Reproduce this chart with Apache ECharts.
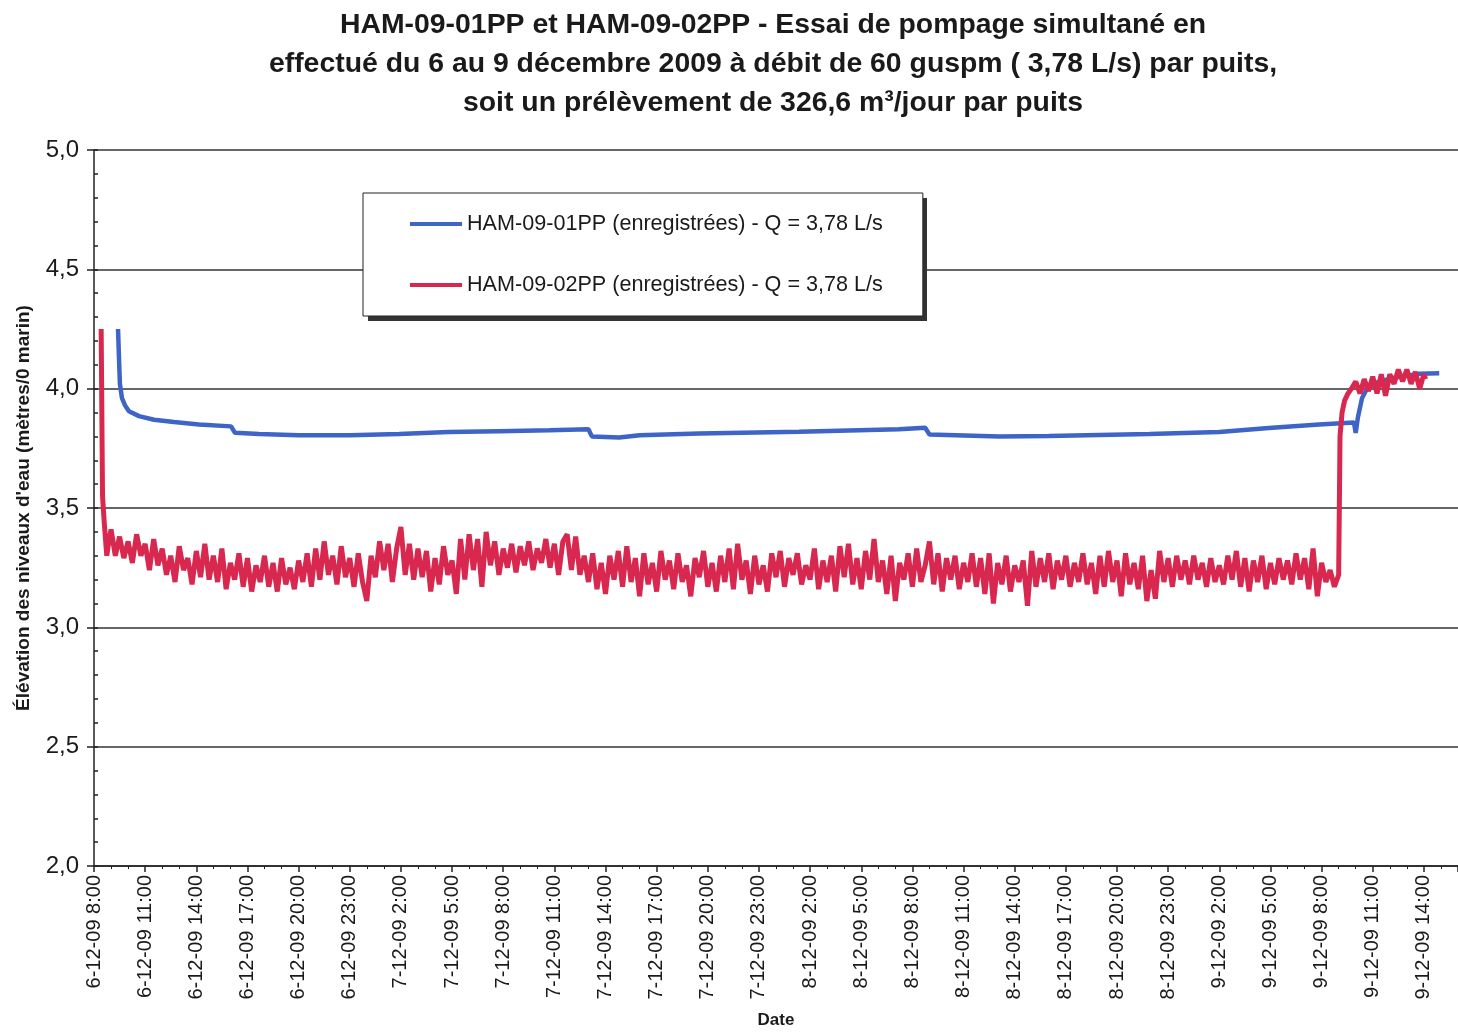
<!DOCTYPE html>
<html>
<head>
<meta charset="utf-8">
<script src="https://cdn.jsdelivr.net/npm/echarts@6/dist/echarts.min.js"></script>
<style>
html,body{margin:0;padding:0;background:#fff;}
#chart{width:1458px;height:1034px;}
</style>
</head>
<body>
<div id="chart"></div>
<script>
// X values are hours elapsed since 6-12-09 8:00
const titleText = 'HAM-09-01PP et HAM-09-02PP - Essai de pompage simultané en\neffectué du 6 au 9 décembre 2009 à débit de 60 guspm ( 3,78 L/s) par puits,\nsoit un prélèvement de 326,6 m³/jour par puits';
const seriesNames = ['HAM-09-01PP (enregistrées) - Q = 3,78 L/s', 'HAM-09-02PP (enregistrées) - Q = 3,78 L/s'];
const yAxisName = "Élévation des niveaux d'eau (mètres/0 marin)";
const xAxisName = 'Date';

// HAM-09-01PP (blue)
const blueHours = [1.41, 1.47, 1.52, 1.64, 1.82, 2.05, 2.64, 3.52, 4.69, 6.16, 8.04, 8.27, 9.68, 12.0, 15.0, 17.9, 20.8, 23.75, 26.7, 29.0, 29.2, 30.8, 32.0, 35.5, 41.35, 47.2, 48.75, 49.0, 53.1, 56.0, 61.9, 66.0, 68.9, 71.85, 73.9, 74.0, 74.13, 74.37, 74.66, 75.37, 76.54, 77.7, 78.9];
const blueValues = [4.25, 4.12, 4.02, 3.96, 3.93, 3.905, 3.885, 3.87, 3.86, 3.85, 3.842, 3.815, 3.81, 3.805, 3.805, 3.81, 3.818, 3.822, 3.826, 3.83, 3.80, 3.795, 3.805, 3.812, 3.82, 3.83, 3.836, 3.808, 3.80, 3.802, 3.81, 3.818, 3.835, 3.85, 3.858, 3.815, 3.88, 3.96, 4.0, 4.03, 4.05, 4.062, 4.065];

// HAM-09-02PP (red)
const redHeadHours = [0.42, 0.46, 0.5, 0.6, 0.75, 0.87];
const redHeadValues = [4.25, 3.9, 3.55, 3.44, 3.30, 3.36];
const redStartHour = 1.0;
const redStepHour = 0.25;
const redValues = [
  3.41, 3.30, 3.38, 3.29, 3.36, 3.27, 3.39, 3.30, 3.35, 3.24, 3.37, 3.26,
  3.33, 3.22, 3.30, 3.19, 3.34, 3.24, 3.29, 3.18, 3.32, 3.21, 3.35, 3.20,
  3.30, 3.19, 3.33, 3.16, 3.27, 3.20, 3.31, 3.17, 3.29, 3.15, 3.26, 3.19,
  3.30, 3.17, 3.27, 3.15, 3.29, 3.18, 3.25, 3.16, 3.28, 3.19, 3.31, 3.17,
  3.33, 3.20, 3.36, 3.22, 3.30, 3.18, 3.34, 3.21, 3.29, 3.17, 3.31, 3.19,
  3.11, 3.30, 3.21, 3.36, 3.24, 3.35, 3.19, 3.33, 3.42, 3.22, 3.35, 3.20,
  3.33, 3.21, 3.32, 3.15, 3.29, 3.18, 3.34, 3.22, 3.28, 3.14, 3.37, 3.20,
  3.39, 3.24, 3.37, 3.17, 3.40, 3.26, 3.36, 3.22, 3.33, 3.25, 3.35, 3.23,
  3.34, 3.26, 3.36, 3.24, 3.33, 3.27, 3.37, 3.25, 3.35, 3.22, 3.36, 3.39,
  3.24, 3.38, 3.22, 3.30, 3.19, 3.31, 3.16, 3.27, 3.14, 3.30, 3.20, 3.32,
  3.17, 3.34, 3.19, 3.29, 3.13, 3.31, 3.18, 3.27, 3.15, 3.32, 3.20, 3.28,
  3.16, 3.31, 3.19, 3.26, 3.13, 3.29, 3.21, 3.32, 3.17, 3.27, 3.15, 3.30,
  3.19, 3.33, 3.16, 3.35, 3.20, 3.28, 3.14, 3.30, 3.18, 3.26, 3.15, 3.31,
  3.21, 3.32, 3.17, 3.29, 3.22, 3.31, 3.18, 3.26, 3.20, 3.33, 3.16, 3.28,
  3.19, 3.30, 3.15, 3.34, 3.21, 3.35, 3.18, 3.29, 3.16, 3.32, 3.20, 3.37,
  3.19, 3.28, 3.14, 3.30, 3.11, 3.27, 3.20, 3.31, 3.17, 3.33, 3.19, 3.26,
  3.36, 3.18, 3.31, 3.15, 3.29, 3.20, 3.30, 3.16, 3.27, 3.19, 3.31, 3.17,
  3.29, 3.14, 3.31, 3.10, 3.27, 3.18, 3.30, 3.15, 3.26, 3.19, 3.28, 3.09,
  3.32, 3.17, 3.29, 3.19, 3.31, 3.16, 3.28, 3.20, 3.30, 3.17, 3.27, 3.19,
  3.31, 3.18, 3.27, 3.14, 3.30, 3.17, 3.32, 3.19, 3.28, 3.13, 3.31, 3.18,
  3.27, 3.16, 3.30, 3.11, 3.24, 3.12, 3.32, 3.19, 3.29, 3.17, 3.30, 3.20,
  3.28, 3.18, 3.30, 3.20, 3.27, 3.17, 3.29, 3.19, 3.26, 3.18, 3.30, 3.20,
  3.32, 3.17, 3.29, 3.15, 3.28, 3.19, 3.30, 3.16, 3.27, 3.18, 3.29, 3.20,
  3.28, 3.18, 3.31, 3.20, 3.29, 3.16, 3.33, 3.13, 3.27, 3.19, 3.24, 3.17
];
const redTailHours = [73.0, 73.04, 73.08, 73.2, 73.35, 73.55, 73.75, 74.0, 74.25, 74.5, 74.75, 75.0, 75.25, 75.5, 75.75, 76.0, 76.25, 76.5, 76.75, 77.0, 77.25, 77.5, 77.75, 78.0, 78.1];
const redTailValues = [3.22, 3.50, 3.80, 3.90, 3.95, 3.98, 4.00, 4.03, 3.98, 4.04, 3.99, 4.05, 3.98, 4.06, 3.97, 4.06, 4.02, 4.08, 4.03, 4.08, 4.02, 4.07, 4.00, 4.06, 4.04];

const blueData = blueHours.map((h, i) => [h, blueValues[i]]);
const redData = redHeadHours.map((h, i) => [h, redHeadValues[i]])
  .concat(redValues.map((v, i) => [redStartHour + i * redStepHour, v]))
  .concat(redTailHours.map((h, i) => [h, redTailValues[i]]));

const FONT = '"Liberation Sans", Arial, sans-serif';

function fmtX(h) {
  if (Math.abs(h % 3) > 1e-6 || h > 78.5) return '';
  const t = h + 8;
  const day = 6 + Math.floor(t / 24);
  const hr = Math.round(t % 24);
  return day + '-12-09 ' + hr + ':00';
}

const chart = echarts.init(document.getElementById('chart'));
chart.setOption({
  animation: false,
  backgroundColor: '#ffffff',
  title: {
    text: titleText,
    left: 768,
    top: 1,
    textAlign: 'center',
    textStyle: { fontFamily: FONT, fontSize: 28.4, fontWeight: 'bold', color: '#1a1a1a', lineHeight: 39 }
  },
  graphic: [{
    type: 'rect',
    z: 3,
    silent: true,
    shape: { x: 368, y: 198, width: 559, height: 123 },
    style: { fill: '#333333' }
  }],
  legend: {
    orient: 'vertical',
    left: 363,
    top: 193,
    z: 4,
    padding: [20, 40, 20, 47],
    itemGap: 39,
    itemWidth: 52,
    itemHeight: 4,
    icon: 'rect',
    selectedMode: false,
    backgroundColor: '#ffffff',
    borderColor: '#222',
    borderWidth: 1,
    textStyle: { fontFamily: FONT, fontSize: 21.6, color: '#1a1a1a' },
    data: seriesNames
  },
  grid: { left: 94, right: 0, top: 150, bottom: 164 },
  xAxis: {
    type: 'value',
    min: 0,
    max: 80,
    interval: 3,
    name: xAxisName,
    nameLocation: 'middle',
    nameGap: 146,
    nameTextStyle: { fontFamily: FONT, fontSize: 17, fontWeight: 'bold', color: '#1a1a1a' },
    axisLine: { show: true, lineStyle: { color: '#222', width: 1.5 } },
    axisTick: { show: true, inside: false, length: 6, lineStyle: { color: '#222', width: 1.5 } },
    minorTick: { show: true, splitNumber: 3, length: 3, lineStyle: { color: '#222', width: 1 } },
    splitLine: { show: false },
    axisLabel: {
      rotate: 90,
      margin: 9,
      fontFamily: FONT,
      fontSize: 20,
      color: '#1a1a1a',
      formatter: fmtX,
      showMaxLabel: false
    }
  },
  yAxis: [{
    type: 'value',
    min: 2,
    max: 5,
    interval: 0.5,
    name: yAxisName,
    nameLocation: 'middle',
    nameGap: 61,
    nameTextStyle: { fontFamily: FONT, fontSize: 19, fontWeight: 'bold', color: '#1a1a1a' },
    axisLine: { show: true, lineStyle: { color: '#222', width: 1.5 } },
    axisTick: { show: true, inside: true, length: 4, lineStyle: { color: '#222', width: 1.5 } },
    minorTick: { show: true, splitNumber: 5, length: 4, lineStyle: { color: '#222', width: 1.5 } },
    splitLine: { show: true, lineStyle: { color: '#333', width: 1.6 } },
    axisLabel: {
      margin: 15,
      fontFamily: FONT,
      fontSize: 24,
      color: '#1a1a1a',
      formatter: v => v.toFixed(1).replace('.', ',')
    }
  }, {
    type: 'value',
    position: 'left',
    min: 2,
    max: 5,
    interval: 0.5,
    axisLine: { show: false },
    axisTick: { show: true, inside: false, length: 7, lineStyle: { color: '#222', width: 1.5 } },
    axisLabel: { show: false },
    splitLine: { show: false }
  }],
  series: [{
    name: seriesNames[0],
    type: 'line',
    yAxisIndex: 0,
    data: blueData,
    showSymbol: false,
    color: '#3d64c6',
    lineStyle: { color: '#3d64c6', width: 4.5 },
    z: 2
  }, {
    name: seriesNames[1],
    type: 'line',
    yAxisIndex: 0,
    data: redData,
    showSymbol: false,
    color: '#d8284f',
    lineStyle: { color: '#d8284f', width: 5 },
    z: 3
  }]
});
</script>
</body>
</html>
